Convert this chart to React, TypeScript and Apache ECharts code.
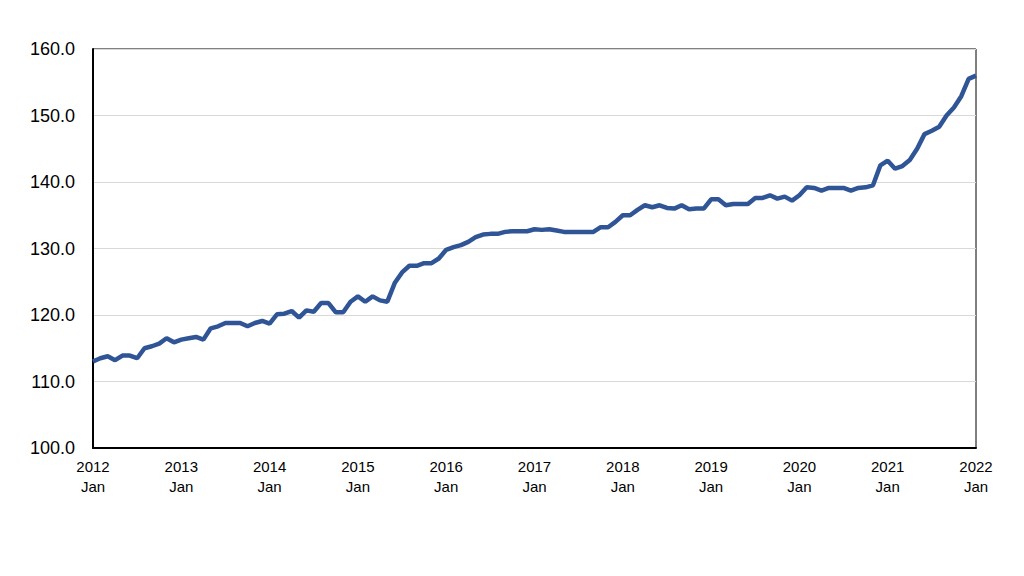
import React, { useEffect, useRef } from "react";
import * as echarts from "echarts";

const years = [2012, 2013, 2014, 2015, 2016, 2017, 2018, 2019, 2020, 2021, 2022];

const values2012 = [113.0, 113.5, 113.8, 113.2, 113.9, 113.9, 113.5, 115.0, 115.3, 115.7, 116.5, 115.9];
const values2013 = [116.3, 116.5, 116.7, 116.3, 118.0, 118.3, 118.8, 118.8, 118.8, 118.3, 118.8, 119.1];
const values2014 = [118.7, 120.1, 120.2, 120.6, 119.6, 120.7, 120.5, 121.8, 121.8, 120.4, 120.4, 122.0];
const values2015 = [122.8, 122.0, 122.8, 122.2, 122.0, 124.8, 126.4, 127.4, 127.4, 127.8, 127.8, 128.5];
const values2016 = [129.8, 130.2, 130.5, 131.0, 131.7, 132.1, 132.2, 132.2, 132.5, 132.6, 132.6, 132.6];
const values2017 = [132.9, 132.8, 132.9, 132.7, 132.5, 132.5, 132.5, 132.5, 132.5, 133.2, 133.2, 134.0];
const values2018 = [135.0, 135.0, 135.8, 136.5, 136.2, 136.5, 136.1, 136.0, 136.5, 135.9, 136.0, 136.0];
const values2019 = [137.4, 137.4, 136.5, 136.7, 136.7, 136.7, 137.6, 137.6, 138.0, 137.5, 137.8, 137.2];
const values2020 = [138.0, 139.2, 139.1, 138.7, 139.1, 139.1, 139.1, 138.7, 139.1, 139.2, 139.5, 142.5];
const values2021 = [143.2, 142.0, 142.4, 143.3, 145.0, 147.2, 147.7, 148.3, 150.0, 151.2, 152.9, 155.5];
const values2022 = [156.0];

const seriesValues = [
  ...values2012, ...values2013, ...values2014, ...values2015, ...values2016,
  ...values2017, ...values2018, ...values2019, ...values2020, ...values2021, ...values2022,
];

const monthNames = ["Jan", "Feb", "Mar", "Apr", "May", "Jun", "Jul", "Aug", "Sep", "Oct", "Nov", "Dec"];

const categories: string[] = [];
years.forEach((y) => {
  monthNames.forEach((m) => {
    if (categories.length < seriesValues.length) categories.push(`${y}\n${m}`);
  });
});

const FONT = "'Liberation Sans', Arial, sans-serif";

export default function App() {
  const ref = useRef<HTMLDivElement>(null);
  useEffect(() => {
    if (!ref.current) return;
    const chart = echarts.init(ref.current, undefined, { renderer: "svg" });
    chart.setOption({
      animation: false,
      backgroundColor: "#ffffff",
      grid: {
        left: 85,
        right: 56,
        top: 41,
        bottom: 136,
        show: true,
        borderColor: "#000000",
        borderWidth: 1,
        containLabel: false,
      },
      xAxis: {
        type: "category",
        data: categories,
        boundaryGap: false,
        axisLine: { show: true, lineStyle: { color: "#000000", width: 2 } },
        axisTick: { show: false },
        splitLine: { show: false },
        axisLabel: {
          interval: 11,
          color: "#000000",
          fontFamily: FONT,
          fontSize: 15,
          lineHeight: 20,
          margin: 8,
        },
      },
      yAxis: {
        type: "value",
        min: 100,
        max: 160,
        interval: 10,
        axisLine: { show: true, lineStyle: { color: "#000000", width: 2 } },
        axisTick: { show: false },
        splitLine: { show: true, lineStyle: { color: "#d9d9d9", width: 1 } },
        axisLabel: {
          color: "#000000",
          fontFamily: FONT,
          fontSize: 18,
          margin: 18,
          formatter: (v: number) => v.toFixed(1),
        },
      },
      series: [
        {
          type: "line",
          data: seriesValues,
          showSymbol: false,
          symbol: "none",
          lineStyle: { color: "#2f5597", width: 4.5 },
          itemStyle: { color: "#2f5597" },
        },
      ],
    });
    return () => chart.dispose();
  }, []);
  return <div ref={ref} style={{ width: 1024, height: 576 }} />;
}
